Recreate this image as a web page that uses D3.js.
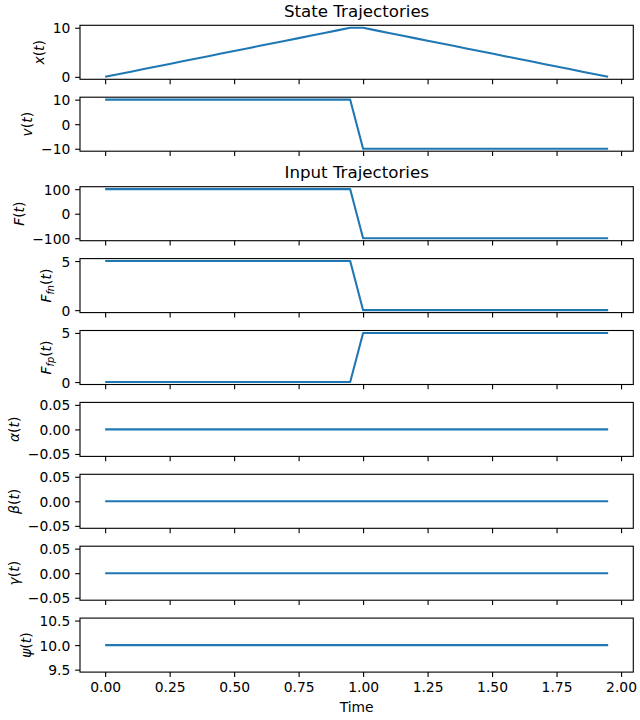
<!DOCTYPE html>
<html>
<head>
<meta charset="utf-8">
<script src="https://cdn.jsdelivr.net/npm/d3@7"></script>
<style>
  html, body { margin: 0; padding: 0; background: #fff; }
  svg { display: block; }
  text { font-family: "DejaVu Sans", sans-serif; fill: #000; }
</style>
</head>
<body>
<svg id="chart" width="640" height="720"></svg>
<script>
// ---------------- DATA ----------------
const time = [0.00,0.05,0.10,0.15,0.20,0.25,0.30,0.35,0.40,0.45,0.50,0.55,0.60,0.65,0.70,0.75,0.80,0.85,0.90,0.95,
              1.00,1.05,1.10,1.15,1.20,1.25,1.30,1.35,1.40,1.45,1.50,1.55,1.60,1.65,1.70,1.75,1.80,1.85,1.90,1.95];
const xPos = [0.00,0.53,1.05,1.58,2.11,2.63,3.16,3.68,4.21,4.74,5.26,5.79,6.32,6.84,7.37,7.89,8.42,8.95,9.47,10.00,
              10.00,9.47,8.95,8.42,7.89,7.37,6.84,6.32,5.79,5.26,4.74,4.21,3.68,3.16,2.63,2.11,1.58,1.05,0.53,0.00];
const vel  = [10,10,10,10,10,10,10,10,10,10,10,10,10,10,10,10,10,10,10,10,
              -10,-10,-10,-10,-10,-10,-10,-10,-10,-10,-10,-10,-10,-10,-10,-10,-10,-10,-10,-10];
const force = [100,100,100,100,100,100,100,100,100,100,100,100,100,100,100,100,100,100,100,100,
               -100,-100,-100,-100,-100,-100,-100,-100,-100,-100,-100,-100,-100,-100,-100,-100,-100,-100,-100,-100];
const ffn = [5,5,5,5,5,5,5,5,5,5,5,5,5,5,5,5,5,5,5,5,
             0,0,0,0,0,0,0,0,0,0,0,0,0,0,0,0,0,0,0,0];
const ffp = [0,0,0,0,0,0,0,0,0,0,0,0,0,0,0,0,0,0,0,0,
             5,5,5,5,5,5,5,5,5,5,5,5,5,5,5,5,5,5,5,5];
const alpha = [0,0,0,0,0,0,0,0,0,0,0,0,0,0,0,0,0,0,0,0,0,0,0,0,0,0,0,0,0,0,0,0,0,0,0,0,0,0,0,0];
const beta  = [0,0,0,0,0,0,0,0,0,0,0,0,0,0,0,0,0,0,0,0,0,0,0,0,0,0,0,0,0,0,0,0,0,0,0,0,0,0,0,0];
const gamma = [0,0,0,0,0,0,0,0,0,0,0,0,0,0,0,0,0,0,0,0,0,0,0,0,0,0,0,0,0,0,0,0,0,0,0,0,0,0,0,0];
const psi   = [10,10,10,10,10,10,10,10,10,10,10,10,10,10,10,10,10,10,10,10,
               10,10,10,10,10,10,10,10,10,10,10,10,10,10,10,10,10,10,10,10];

const xTicks = [0, 0.25, 0.5, 0.75, 1.0, 1.25, 1.5, 1.75, 2.0];
const xDomain = [-0.0975, 2.0475];

const titles = ["State Trajectories", "Input Trajectories"];
const xLabel = "Time";

// label parts: [text, italic, subscript]
const panels = [
  { values: xPos,  domain: [-0.5, 10.5],     ticks: [0, 10],            fmt: d3.format("d"),   label: [["x",1],["(",0],["t",1],[")",0]] },
  { values: vel,   domain: [-11, 11],        ticks: [-10, 0, 10],       fmt: d3.format("d"),   label: [["v",1],["(",0],["t",1],[")",0]] },
  { values: force, domain: [-110, 110],      ticks: [-100, 0, 100],     fmt: d3.format("d"),   label: [["F",1],["(",0],["t",1],[")",0]] },
  { values: ffn,   domain: [-0.25, 5.25],    ticks: [0, 5],             fmt: d3.format("d"),   label: [["F",1],["fn",1,1],["(",0],["t",1],[")",0]] },
  { values: ffp,   domain: [-0.25, 5.25],    ticks: [0, 5],             fmt: d3.format("d"),   label: [["F",1],["fp",1,1],["(",0],["t",1],[")",0]] },
  { values: alpha, domain: [-0.055, 0.055],  ticks: [-0.05, 0, 0.05],   fmt: d3.format(".2f"), label: [["α",1],["(",0],["t",1],[")",0]] },
  { values: beta,  domain: [-0.055, 0.055],  ticks: [-0.05, 0, 0.05],   fmt: d3.format(".2f"), label: [["β",1],["(",0],["t",1],[")",0]] },
  { values: gamma, domain: [-0.055, 0.055],  ticks: [-0.05, 0, 0.05],   fmt: d3.format(".2f"), label: [["γ",1],["(",0],["t",1],[")",0]] },
  { values: psi,   domain: [9.45, 10.55],    ticks: [9.5, 10, 10.5],    fmt: d3.format(".1f"), label: [["ψ",1],["(",0],["t",1],[")",0]] }
];

// ---------------- LAYOUT ----------------
const left = 80, right = 633.3, axH = 54;
const tops = [25.3, 97.2, 186.7, 258.6, 330.5, 402.4, 474.3, 546.2, 618.1];
const fs = 13.89, titleFs = 16.67;
const tickLen = 4.86, tickPad = 4.86;
const color = "#1f77b4";

const svg = d3.select("#chart");
const x = d3.scaleLinear().domain(xDomain).range([left, right]);

panels.forEach((p, i) => {
  const top = tops[i], bottom = top + axH;
  const y = d3.scaleLinear().domain(p.domain).range([bottom, top]);
  const g = svg.append("g");

  // line
  const line = d3.line().x((d, k) => x(time[k])).y(d => y(d));
  g.append("path").datum(p.values)
    .attr("d", line)
    .attr("fill", "none").attr("stroke", color)
    .attr("stroke-width", 2.08).attr("stroke-linejoin", "round").attr("stroke-linecap", "butt");

  // x axis
  const isLast = i === panels.length - 1;
  const xa = d3.axisBottom(x).tickValues(xTicks)
    .tickSize(tickLen).tickPadding(tickPad)
    .tickFormat(isLast ? (d => d3.format(".2f")(d)) : "");
  const gx = g.append("g").attr("transform", `translate(0,${bottom})`).call(xa);
  gx.select(".domain").remove();
  gx.selectAll("line").attr("stroke", "#000").attr("stroke-width", 1.11);
  gx.selectAll("text").attr("font-size", fs).attr("font-family", "DejaVu Sans").attr("dy", "0.76em");

  // y axis
  const ya = d3.axisLeft(y).tickValues(p.ticks).tickSize(tickLen).tickPadding(tickPad)
    .tickFormat(d => p.fmt(d).replace("-", "\u2212"));
  const gy = g.append("g").attr("transform", `translate(${left},0)`).call(ya);
  gy.select(".domain").remove();
  gy.selectAll("line").attr("stroke", "#000").attr("stroke-width", 1.11);
  gy.selectAll("text").attr("font-size", fs).attr("font-family", "DejaVu Sans").attr("dy", "0.36em");

  // frame
  g.append("rect").attr("x", left).attr("y", top).attr("width", right - left).attr("height", axH)
    .attr("fill", "none").attr("stroke", "#000").attr("stroke-width", 1.11);

  // y label
  let minX = Infinity;
  gy.selectAll("text").each(function() {
    const b = this.getBoundingClientRect();
    minX = Math.min(minX, b.left);
  });
  const cy = (top + bottom) / 2;
  const lbl = g.append("text")
    .attr("font-size", fs)
    .attr("text-anchor", "middle")
    .attr("transform", `translate(0,${cy}) rotate(-90)`);
  p.label.forEach(part => {
    const ts = lbl.append("tspan").text(part[0]);
    if (part[1]) ts.attr("font-style", "italic");
    if (part[2]) ts.attr("font-size", fs * 0.7).attr("baseline-shift", "-25%");
  });
  // place so that label right edge is labelpad (5.56px) left of tick labels
  const bb = lbl.node().getBoundingClientRect();
  const shift = (minX - 5.56) - bb.right;
  lbl.attr("transform", `translate(${shift},${cy}) rotate(-90)`);

  if (i === 0 || i === 2) {
    g.append("text")
      .attr("x", (left + right) / 2).attr("y", top - 8.33)
      .attr("text-anchor", "middle").attr("font-size", titleFs)
      .text(titles[i === 0 ? 0 : 1]);
  }
  if (isLast) {
    g.append("text")
      .attr("x", (left + right) / 2).attr("y", 711.7)
      .attr("text-anchor", "middle").attr("font-size", fs)
      .text(xLabel);
  }
});
</script>
</body>
</html>
